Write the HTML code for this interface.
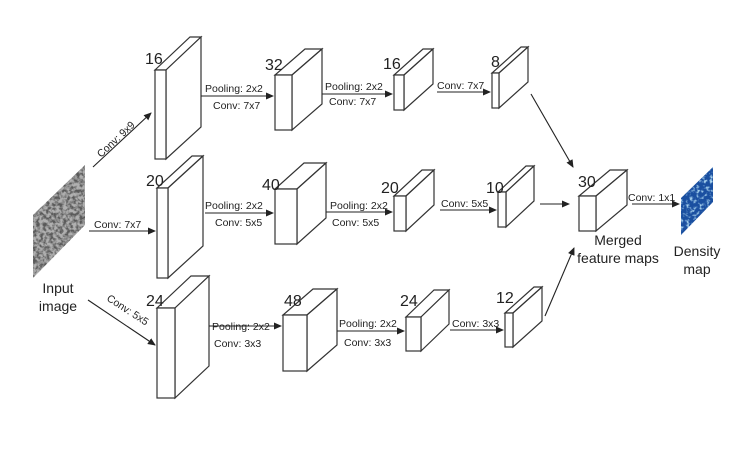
<!DOCTYPE html>
<html><head><meta charset="utf-8"><style>
html,body{margin:0;padding:0;background:#fff;}
svg{display:block;}
text{font-family:"Liberation Sans",sans-serif;fill:#222;}
.s{font-size:10.5px;}
.n{font-size:16px;}
.l{font-size:14px;}
</style></head><body>
<svg width="756" height="450" viewBox="0 0 756 450" xmlns="http://www.w3.org/2000/svg">
<defs>
<marker id="a" markerWidth="8" markerHeight="8" refX="7" refY="4" orient="auto" markerUnits="userSpaceOnUse">
<path d="M0,0.5 L8,4 L0,7.5 Z" fill="#222"/></marker>
<filter id="gn" x="0" y="0" width="100%" height="100%">
<feTurbulence type="fractalNoise" baseFrequency="0.3" numOctaves="3" seed="3"/>
<feColorMatrix type="matrix" values="0 0 0 0 0.1  0 0 0 0 0.1  0 0 0 0 0.1  0 0 0 -3 1.9"/>
</filter>
<filter id="bn" x="0" y="0" width="100%" height="100%">
<feTurbulence type="fractalNoise" baseFrequency="0.3" numOctaves="2" seed="7"/>
<feColorMatrix type="matrix" values="0 0 0 0 0.55  0 0 0 0 0.85  0 0 0 0 1  0 0 0 -3 1.5"/>
</filter>
<clipPath id="ci"><polygon points="33,215 85,165 85,225 33,278"/></clipPath>
<clipPath id="cd"><polygon points="681,198 713,167 713,202 681,235"/></clipPath>
</defs>

<polygon points="33,215 85,165 85,225 33,278" fill="#b0b0b0"/>
<rect x="33" y="165" width="52" height="113" filter="url(#gn)" clip-path="url(#ci)"/>
<polygon points="681,198 713,167 713,202 681,235" fill="#1a4fa0"/>
<rect x="681" y="167" width="32" height="68" filter="url(#bn)" clip-path="url(#cd)"/>

<g fill="#fff" stroke="#333" stroke-width="1.2" stroke-linejoin="miter">
<polygon points="155,70 166,70 201,37 190,37"/><polygon points="166,70 201,37 201,127 166,159"/><rect x="155" y="70" width="11" height="89"/>
<polygon points="275,75 292,75 322,49 305,49"/><polygon points="292,75 322,49 322,104 292,130"/><rect x="275" y="75" width="17" height="55"/>
<polygon points="394,75 404,75 433,49 423,49"/><polygon points="404,75 433,49 433,84 404,110"/><rect x="394" y="75" width="10" height="35"/>
<polygon points="492,73 499,73 528,47 521,47"/><polygon points="499,73 528,47 528,82 499,108"/><rect x="492" y="73" width="7" height="35"/>
<polygon points="157,188 168,188 203,156 192,156"/><polygon points="168,188 203,156 203,246 168,278"/><rect x="157" y="188" width="11" height="90"/>
<polygon points="275,189 297,189 326,163 304,163"/><polygon points="297,189 326,163 326,218 297,244"/><rect x="275" y="189" width="22" height="55"/>
<polygon points="394,196 406,196 434,170 422,170"/><polygon points="406,196 434,170 434,205 406,231"/><rect x="394" y="196" width="12" height="35"/>
<polygon points="498,192 506,192 534,166 526,166"/><polygon points="506,192 534,166 534,201 506,227"/><rect x="498" y="192" width="8" height="35"/>
<polygon points="157,308 175,308 209,276 191,276"/><polygon points="175,308 209,276 209,366 175,398"/><rect x="157" y="308" width="18" height="90"/>
<polygon points="283,315 307,315 337,289 313,289"/><polygon points="307,315 337,289 337,345 307,371"/><rect x="283" y="315" width="24" height="56"/>
<polygon points="406,317 421,317 449,290 434,290"/><polygon points="421,317 449,290 449,324 421,351"/><rect x="406" y="317" width="15" height="34"/>
<polygon points="505,313 513,313 542,287 534,287"/><polygon points="513,313 542,287 542,321 513,347"/><rect x="505" y="313" width="8" height="34"/>
<polygon points="579,196 596,196 627,170 610,170"/><polygon points="596,196 627,170 627,205 596,231"/><rect x="579" y="196" width="17" height="35"/>
</g>

<g stroke="#222" stroke-width="1.1" fill="none" marker-end="url(#a)">
<line x1="93" y1="167" x2="151" y2="113"/>
<line x1="89" y1="231" x2="155" y2="231"/>
<line x1="88" y1="300" x2="155" y2="345"/>
<line x1="201" y1="96" x2="273" y2="96"/>
<line x1="322" y1="94" x2="392" y2="94"/>
<line x1="437" y1="92" x2="490" y2="92"/>
<line x1="205" y1="213" x2="273" y2="213"/>
<line x1="326" y1="212" x2="392" y2="212"/>
<line x1="440" y1="210" x2="496" y2="210"/>
<line x1="540" y1="204" x2="569" y2="204"/>
<line x1="209" y1="326" x2="281" y2="326"/>
<line x1="337" y1="331" x2="404" y2="331"/>
<line x1="450" y1="330" x2="503" y2="330"/>
<line x1="531" y1="94" x2="573" y2="167"/>
<line x1="545" y1="316" x2="574" y2="248"/>
<line x1="632" y1="204" x2="679" y2="204"/>
</g>

<g class="s">
<text x="0" y="0" transform="translate(101,158) rotate(-43)">Conv: 9x9</text>
<text x="94" y="228">Conv: 7x7</text>
<text x="0" y="0" transform="translate(106,300) rotate(33)">Conv: 5x5</text>
<text x="205" y="92">Pooling: 2x2</text><text x="213" y="109">Conv: 7x7</text>
<text x="325" y="90">Pooling: 2x2</text><text x="329" y="105">Conv: 7x7</text>
<text x="437" y="89">Conv: 7x7</text>
<text x="205" y="209">Pooling: 2x2</text><text x="215" y="226">Conv: 5x5</text>
<text x="330" y="209">Pooling: 2x2</text><text x="332" y="226">Conv: 5x5</text>
<text x="441" y="207">Conv: 5x5</text>
<text x="212" y="330">Pooling: 2x2</text><text x="214" y="347">Conv: 3x3</text>
<text x="339" y="327">Pooling: 2x2</text><text x="344" y="346">Conv: 3x3</text>
<text x="452" y="327">Conv: 3x3</text>
<text x="628" y="201">Conv: 1x1</text>
</g>

<g class="n">
<text x="145" y="64">16</text><text x="265" y="70">32</text><text x="383" y="69">16</text><text x="491" y="67">8</text>
<text x="146" y="186">20</text><text x="262" y="190">40</text><text x="381" y="193">20</text><text x="486" y="193">10</text>
<text x="578" y="187">30</text>
<text x="146" y="306">24</text><text x="284" y="306">48</text><text x="400" y="306">24</text><text x="496" y="303">12</text>
</g>

<g class="l" text-anchor="middle">
<text x="58" y="293">Input</text><text x="58" y="311">image</text>
<text x="618" y="245">Merged</text><text x="618" y="263">feature maps</text>
<text x="697" y="256">Density</text><text x="697" y="274">map</text>
</g>
</svg>
</body></html>
